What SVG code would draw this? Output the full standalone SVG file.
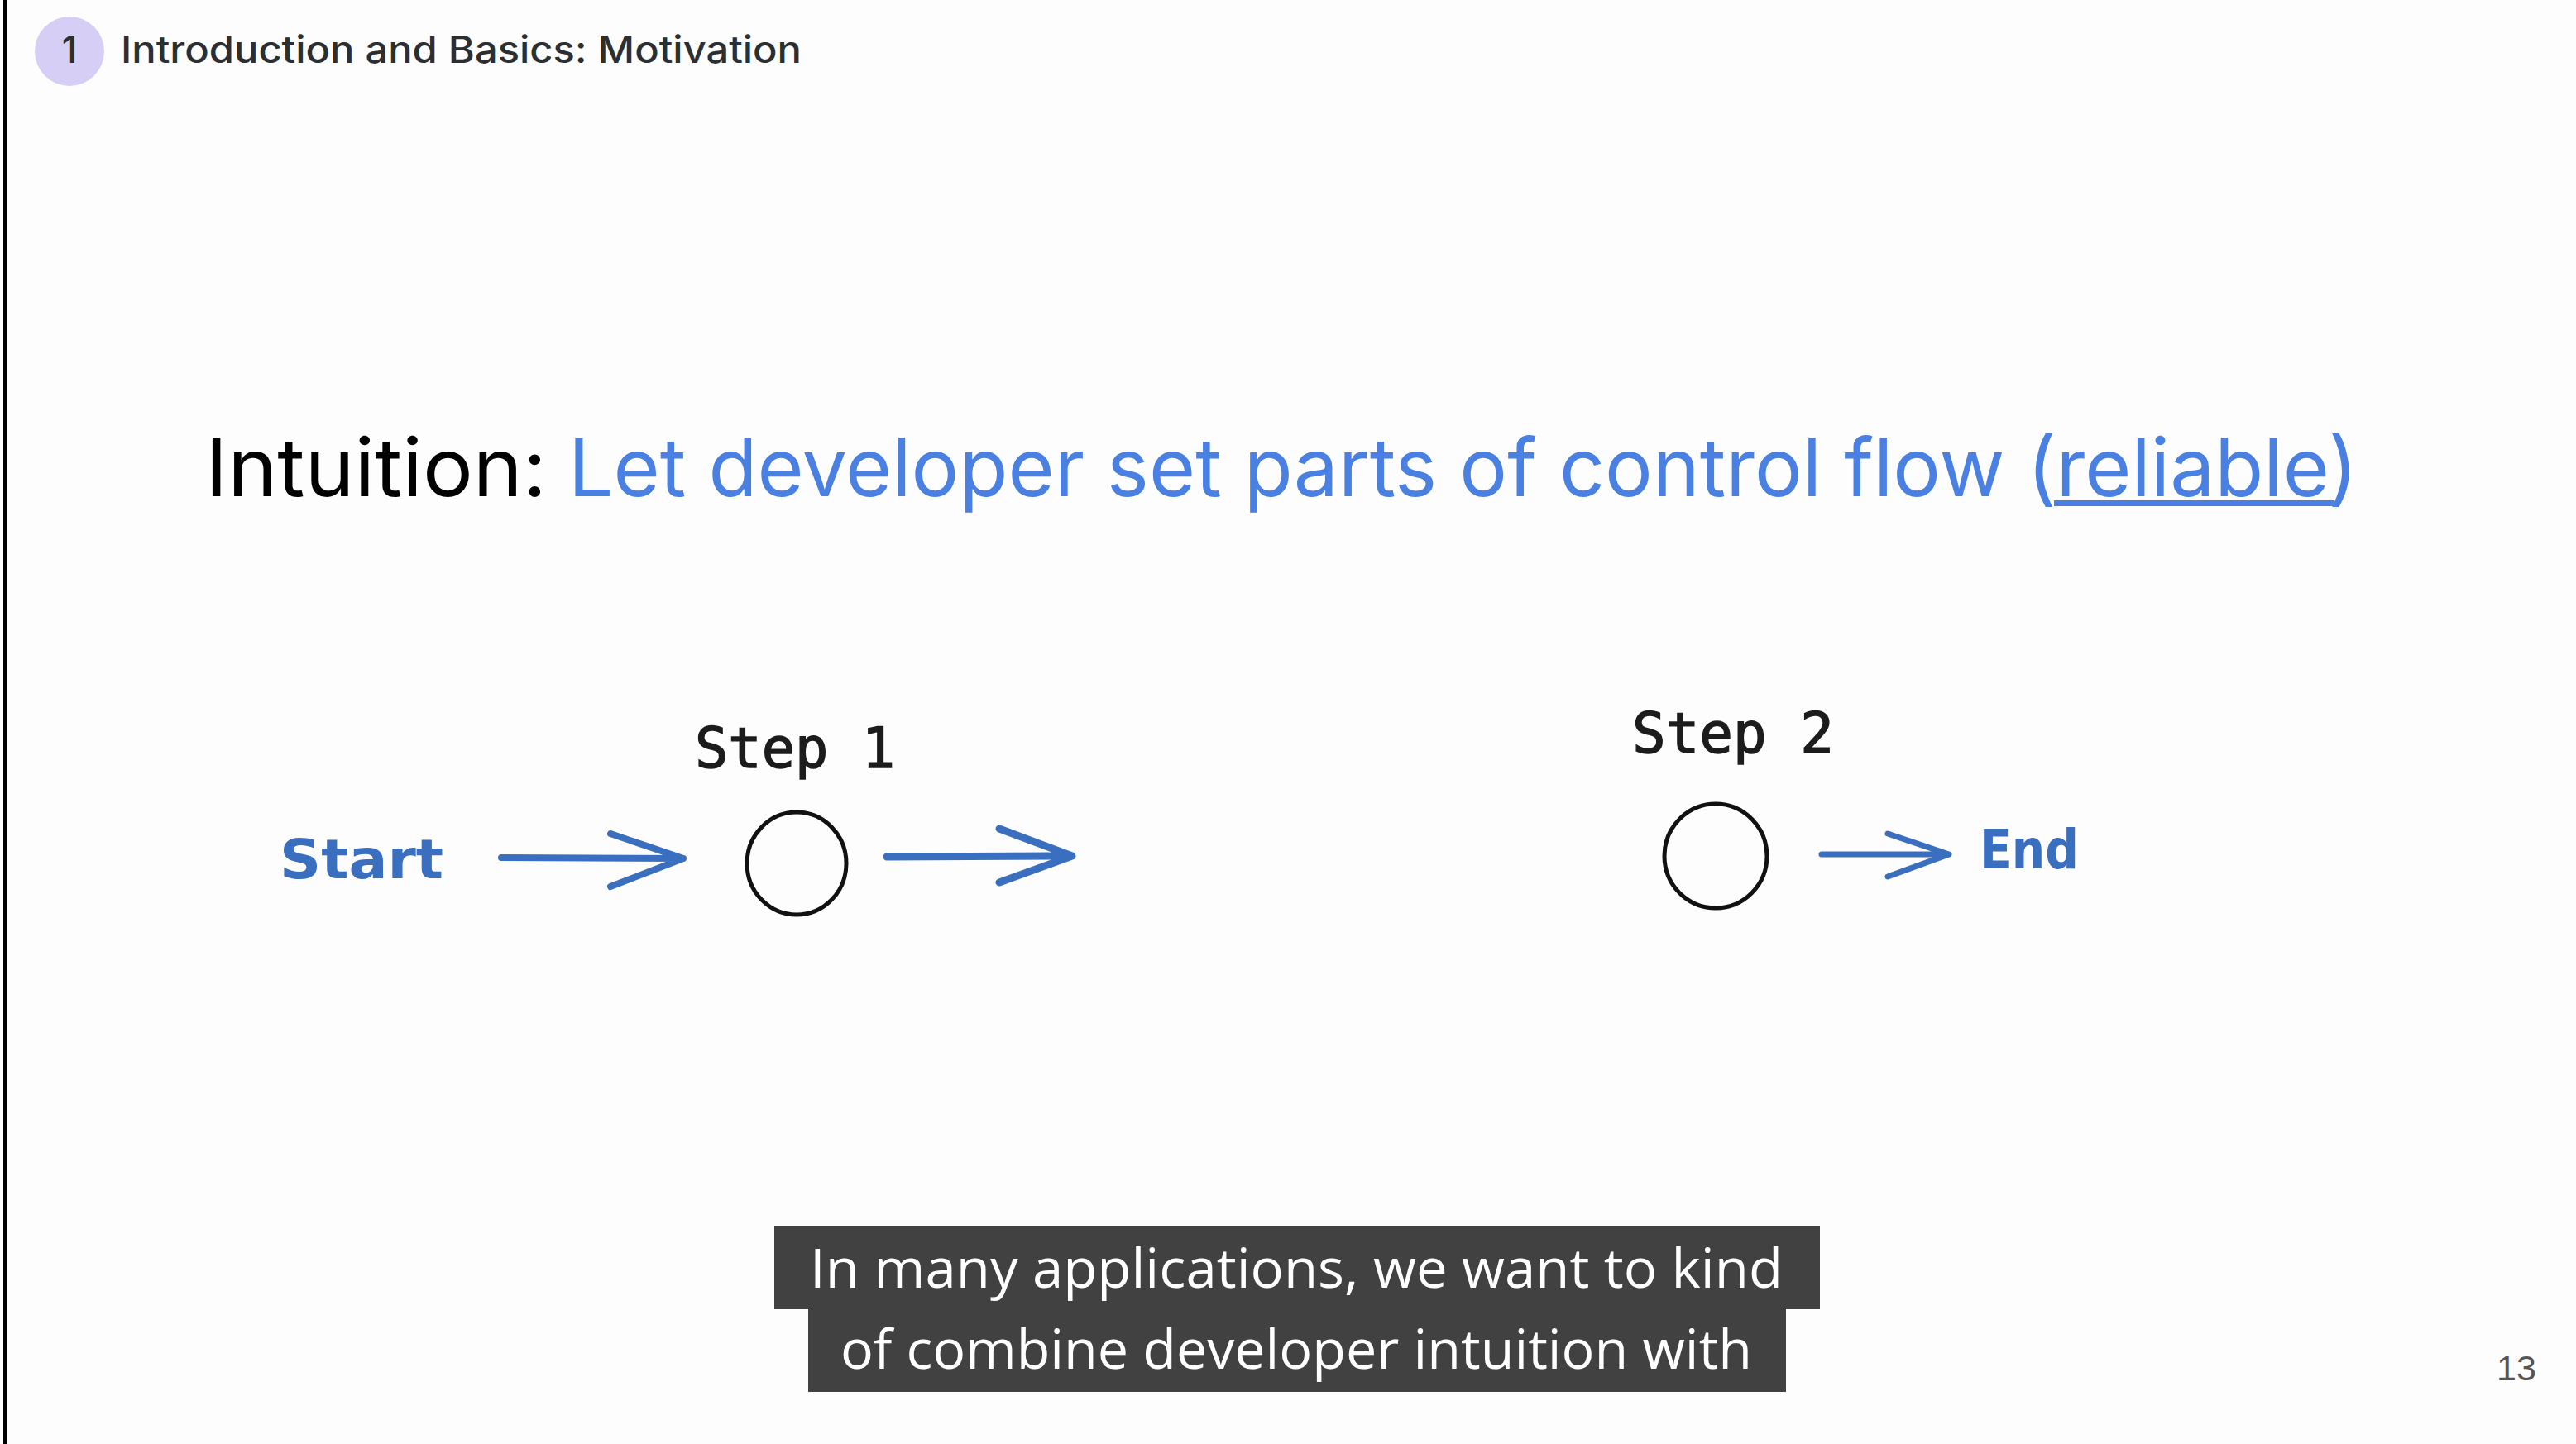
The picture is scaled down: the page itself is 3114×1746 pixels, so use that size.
<svg xmlns="http://www.w3.org/2000/svg" width="3114" height="1746" viewBox="0 0 3114 1746">
  <style>
    .hdr { font-family: Inter, "Noto Sans", "Liberation Sans", sans-serif; fill: #2b2f31; font-size: 45px; font-weight: 500; }
    .title { font-family: Inter, "Noto Sans", "Liberation Sans", sans-serif; font-size: 98px; }
    .blue { fill: #4a80e2; }
    .step { font-family: "DejaVu Sans Mono", "Liberation Mono", monospace; font-size: 68px; fill: #1c1c1c; stroke: #1c1c1c; stroke-width: 1.5; }
    .hand { font-family: "DejaVu Sans", "Liberation Sans", sans-serif; font-size: 66px; fill: #3a6fc0; font-weight: bold; }
    .node { fill: none; stroke: #111; stroke-width: 5; }
    .conn path { fill: none; stroke: #3a6fc0; stroke-linecap: round; stroke-linejoin: round; }
    .sub { fill: #414141; }
    .subt { font-family: "Open Sans", "Liberation Sans", sans-serif; font-size: 66px; fill: #ffffff; }
  </style>
  <rect x="0" y="0" width="3114" height="1746" fill="#fdfdfd"/>
  <rect x="4" y="0" width="4" height="1746" fill="#000"/>

  <g id="header">
    <circle cx="84" cy="62" r="42" fill="#d7cef6"/>
    <text x="84" y="76" class="hdr" text-anchor="middle" fill="#222">1</text>
    <text x="146" y="76" class="hdr" textLength="823" lengthAdjust="spacingAndGlyphs">Introduction and Basics: Motivation</text>
  </g>

  <g id="title">
    <text x="248" y="600" class="title" fill="#000" textLength="413" lengthAdjust="spacingAndGlyphs">Intuition:</text>
    <text x="687" y="600" class="title blue" textLength="2163" lengthAdjust="spacingAndGlyphs">Let developer set parts of control flow (reliable)</text>
    <rect x="2483" y="605" width="339" height="7" class="blue"/>
  </g>

  <g id="start">
    <text x="338" y="1062" class="hand" textLength="198" lengthAdjust="spacingAndGlyphs">Start</text>
  </g>

  <g id="step1">
    <text x="840" y="928" class="step" textLength="242" lengthAdjust="spacingAndGlyphs">Step 1</text>
    <ellipse cx="963" cy="1044" rx="60" ry="62" class="node"/>
  </g>

  <g id="step2">
    <text x="1973" y="910" class="step" textLength="244" lengthAdjust="spacingAndGlyphs">Step 2</text>
    <ellipse cx="2074" cy="1035" rx="62" ry="63" class="node"/>
  </g>

  <g id="end">
    <text x="2393" y="1050" class="hand" textLength="120" lengthAdjust="spacingAndGlyphs">End</text>
  </g>

  <g id="connectors" class="conn">
    <path d="M606 1037 L826 1038 M738 1008 L826 1038 L738 1072" stroke-width="8"/>
    <path d="M1072 1036 L1296 1035 M1208 1002 L1296 1035 L1208 1067" stroke-width="9"/>
    <path d="M2202 1033 L2356 1033 M2282 1008 L2356 1033 L2282 1060" stroke-width="7"/>
  </g>

  <g id="subtitles">
    <rect x="936" y="1483" width="1264" height="100" class="sub"/>
    <rect x="977" y="1583" width="1182" height="100" class="sub"/>
    <text x="979" y="1557" class="subt" textLength="1176" lengthAdjust="spacingAndGlyphs">In many applications, we want to kind</text>
    <text x="1016" y="1655" class="subt" textLength="1102" lengthAdjust="spacingAndGlyphs">of combine developer intuition with</text>
  </g>

  <g id="page">
    <text x="3018" y="1669" font-family="Liberation Sans, Arial, sans-serif" font-size="43" fill="#555">13</text>
  </g>
</svg>
